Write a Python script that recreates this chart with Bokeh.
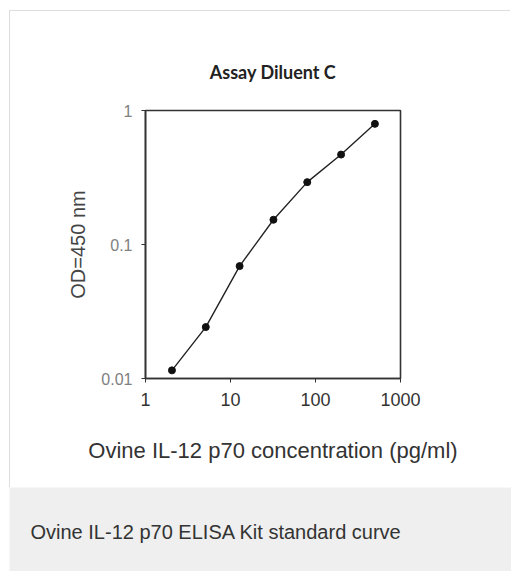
from bokeh.plotting import figure
from bokeh.layouts import column
from bokeh.models import Label, FixedTicker, Range1d
from bokeh.embed import file_html
from bokeh.resources import INLINE

# ---- data ----
concentration = [2.048, 5.12, 12.8, 32, 80, 200, 500]
od450 = [0.0115, 0.0242, 0.069, 0.153, 0.292, 0.469, 0.795]
x_ticks = [1, 10, 100, 1000]
x_tick_labels = ["1", "10", "100", "1000"]
y_ticks = [0.01, 0.1, 1]
y_tick_labels = ["0.01", "0.1", "1"]
title_text = "Assay Diluent C"
x_title = "Ovine IL-12 p70 concentration (pg/ml)"
y_title = "OD=450 nm"
caption_text = "Ovine IL-12 p70 ELISA Kit standard curve"

W = 501
H = 477
p = figure(width=W, height=H, x_axis_type="log", y_axis_type="log",
           x_range=Range1d(1, 1000), y_range=Range1d(0.01, 1),
           output_backend="svg", toolbar_location=None,
           min_border_left=135, min_border_right=W - 390,
           min_border_top=99, min_border_bottom=H - 367,
           title=title_text)
p.margin = (10, 0, 0, 9)
p.frame_align = False
p.styles = {"border-top": "1px solid #dddddd", "border-left": "1px solid #dddddd"}
p.background_fill_color = "white"
p.border_fill_color = "white"
p.outline_line_color = "#333333"
p.outline_line_width = 1.6
p.grid.visible = False

p.title.align = "center"
p.title.vertical_align = "top"
p.title.standoff = 51
p.title.text_font = "Lato"
p.title.text_font_style = "bold"
p.title.text_font_size = "18px"
p.title.text_color = "#222222"

for ax in (p.xaxis[0], p.yaxis[0]):
    ax.axis_line_color = "#333333"
    ax.axis_line_width = 1.6
    ax.major_tick_line_color = "#333333"
    ax.major_tick_in = 0
    ax.major_tick_out = 4
    ax.minor_tick_line_color = None
    ax.major_label_text_font = "Liberation Sans"
    ax.axis_label_text_font = "Liberation Sans"
    ax.axis_label_text_font_style = "normal"

p.xaxis.ticker = FixedTicker(ticks=x_ticks)
p.xaxis.major_label_overrides = dict(zip(x_ticks, x_tick_labels))
p.xaxis.major_label_text_font_size = "18px"
p.xaxis.major_label_text_color = "#333333"
p.xaxis.major_label_standoff = 10
p.xaxis.axis_label = x_title
p.xaxis.axis_label_text_font_size = "22px"
p.xaxis.axis_label_text_color = "#333333"
p.xaxis.axis_label_standoff = 29

p.yaxis.ticker = FixedTicker(ticks=y_ticks)
p.yaxis.major_label_overrides = dict(zip(y_ticks, y_tick_labels))
p.yaxis.major_label_text_font_size = "16px"
p.yaxis.major_label_text_color = "#808080"
p.yaxis.major_label_standoff = 9
p.yaxis.axis_label = y_title
p.yaxis.axis_label_text_font_size = "20px"
p.yaxis.axis_label_text_color = "#444444"
p.yaxis.axis_label_standoff = 9

p.line(concentration, od450, line_color="#222222", line_width=1.4)
p.scatter(concentration, od450, size=7, fill_color="#111111", line_color="#111111")

c = figure(width=502, height=84, x_axis_type=None, y_axis_type=None,
           x_range=Range1d(0, 1), y_range=Range1d(0, 1),
           output_backend="svg", toolbar_location=None, min_border=0)
c.margin = (0, 0, 0, 9)
c.frame_align = False
c.background_fill_color = "#eeefee"
c.border_fill_color = "#eeefee"
c.outline_line_color = None
c.grid.visible = False
c.add_layout(Label(x=21, y=40, x_units="screen", y_units="screen", text=caption_text,
                   text_font="Liberation Sans", text_font_size="20px",
                   text_color="#333333", text_align="left", text_baseline="middle"))

layout = column(p, c, spacing=0)
open("out.html", "w").write(file_html(layout, INLINE))
